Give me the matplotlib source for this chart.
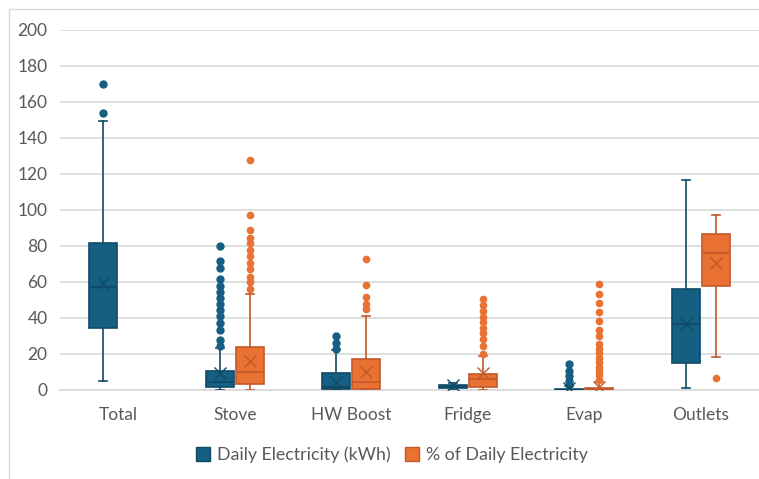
import matplotlib
matplotlib.use("Agg")
import matplotlib.pyplot as plt
from matplotlib.patches import Patch, Rectangle

plt.rcParams['font.family'] = ['Lato', 'DejaVu Sans']

categories = ["Total", "Stove", "HW Boost", "Fridge", "Evap", "Outlets"]
yticks = [0, 20, 40, 60, 80, 100, 120, 140, 160, 180, 200]

# Daily Electricity (kWh)
kwh_whislo = [5, 0, 0, 0.2, 0, 0.9]
kwh_q1 = [34.3, 1.5, 0.5, 1.1, 0, 14.8]
kwh_med = [57.4, 4.6, 1.5, 1.8, 0.2, 36.5]
kwh_q3 = [81.8, 10.7, 9.4, 2.6, 0.8, 56.3]
kwh_whishi = [149.4, 23.3, 22.0, 4.0, 2.5, 116.7]
kwh_mean = [59.6, 9.6, 4.6, 2.9, 0.9, 36.5]
kwh_fliers = [
    [153.7, 169.8],
    [24.5, 28.0, 33.5, 37.5, 41.0, 44.5, 48.0, 51.0, 54.5, 58.0, 61.5, 68.0, 71.5, 80.0],
    [22.8, 25.9, 30.2],
    [],
    [2.8, 5.0, 7.6, 10.7, 14.3],
    [],
]

# % of Daily Electricity (no Total)
pct_categories = ["Stove", "HW Boost", "Fridge", "Evap", "Outlets"]
pct_whislo = [0, 0, 0, 0, 18.3]
pct_q1 = [3.3, 0.6, 1.8, 0, 57.8]
pct_med = [9.8, 4.3, 6.3, 0.4, 76.3]
pct_q3 = [24.0, 17.0, 8.7, 1.2, 86.8]
pct_whishi = [53.3, 41.1, 19.0, 4.5, 97.4]
pct_mean = [16.1, 9.8, 9.4, 1.8, 70.4]
pct_fliers = [
    [56.0, 60.0, 63.0, 67.0, 70.5, 74.5, 78.0, 81.5, 84.5, 89.0, 97.5, 128.0],
    [44.8, 47.6, 51.8, 58.1, 72.8],
    [19.8, 24.6, 28.2, 31.5, 34.6, 37.6, 40.7, 44.1, 47.2, 50.4],
    [5.6, 8.2, 10.7, 12.9, 15.6, 17.9, 20.4, 22.9, 25.6, 30.0, 33.2, 38.5, 43.5, 48.5, 53.3, 58.9],
    [6.5],
]

BLUE = "#156082"
BLUE_D = "#0f4a66"
ORANGE = "#E97132"
ORANGE_D = "#c2592a"
GRID = "#d9d9d9"
TXT = "#595959"

W, H = 759, 479
fig = plt.figure(figsize=(W / 100, H / 100), dpi=100)
ax = fig.add_axes([60 / W, (H - 390) / H, (759 - 60) / W, 360 / H])

fig.patches.append(Rectangle((9 / W, -0.1), 1.2, (H - 9) / H + 0.1, transform=fig.transFigure,
                             fill=False, edgecolor="#d9d9d9", linewidth=1, zorder=0))


def mkstats(lo, q1, med, q3, hi, mean, fl):
    return [dict(whislo=a, q1=b, med=c, q3=d, whishi=e, mean=f, fliers=g)
            for a, b, c, d, e, f, g in zip(lo, q1, med, q3, hi, mean, fl)]


off = 0.13
bw = 0.24

def draw(stats, positions, color, dark, fsize):
    ax.bxp(stats, positions=positions, widths=bw, patch_artist=True, showmeans=True,
           boxprops=dict(facecolor=color, edgecolor=dark, linewidth=1.2),
           medianprops=dict(color=dark, linewidth=1.2),
           whiskerprops=dict(color=dark, linewidth=1.2),
           capprops=dict(color=dark, linewidth=1.2),
           capwidths=0.07,
           meanprops=dict(marker='x', markeredgecolor=dark, markersize=8, markeredgewidth=1.0),
           flierprops=dict(marker='o', markerfacecolor=color, markeredgecolor=color,
                           markersize=fsize, linestyle='none'),
           manage_ticks=False, zorder=3)

kpos = [i - off for i in range(len(categories))]
ppos = [categories.index(c) + off for c in pct_categories]
draw(mkstats(kwh_whislo, kwh_q1, kwh_med, kwh_q3, kwh_whishi, kwh_mean, kwh_fliers), kpos, BLUE, BLUE_D, 5)
draw(mkstats(pct_whislo, pct_q1, pct_med, pct_q3, pct_whishi, pct_mean, pct_fliers), ppos, ORANGE, ORANGE_D, 4.5)

ax.set_xlim(-0.5, len(categories) - 0.5)
ax.set_ylim(0, 200)
ax.set_yticks(yticks)
ax.set_xticks(range(len(categories)))
ax.set_xticklabels(categories)
ax.yaxis.grid(True, color=GRID, linewidth=1.2, zorder=0)
ax.set_axisbelow(True)
for s in ["top", "right", "left"]:
    ax.spines[s].set_visible(False)
ax.spines["bottom"].set_color(GRID)
ax.spines["bottom"].set_linewidth(1.2)
ax.tick_params(axis='both', length=0, colors=TXT, labelsize=12.5)
ax.tick_params(axis='y', pad=9)
ax.tick_params(axis='x', pad=12)

handles = [Patch(facecolor=BLUE, edgecolor=BLUE_D, label="Daily Electricity (kWh)"),
           Patch(facecolor=ORANGE, edgecolor=ORANGE_D, label="% of Daily Electricity")]
leg = fig.legend(handles=handles, loc="center", bbox_to_anchor=((0.5 * (9 + 759) + 8) / W, (H - 455) / H),
                 ncol=2, frameon=False, fontsize=12.8, handlelength=0.8, handleheight=0.8,
                 handletextpad=0.4, columnspacing=0.8)
for t in leg.get_texts():
    t.set_color(TXT)

fig.savefig("out.png", dpi=100)
